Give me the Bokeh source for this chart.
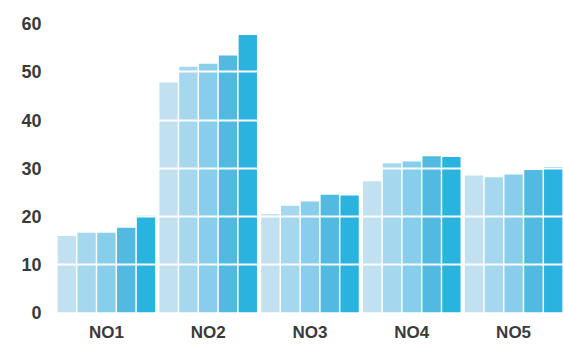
from bokeh.plotting import figure
from bokeh.models import ColumnDataSource, FactorRange, Range1d, FixedTicker
from bokeh.transform import dodge
from bokeh.embed import file_html
from bokeh.resources import INLINE

categories = ["NO1", "NO2", "NO3", "NO4", "NO5"]
s1 = [15.9, 47.8, 20.5, 27.3, 28.5]
s2 = [16.6, 51.1, 22.2, 31.0, 28.1]
s3 = [16.6, 51.7, 23.1, 31.4, 28.7]
s4 = [17.6, 53.4, 24.5, 32.5, 29.6]
s5 = [20.1, 57.7, 24.3, 32.3, 30.2]
series = [s1, s2, s3, s4, s5]
colors = ["#C2E1F0", "#A5D7EE", "#88CEEC", "#52BAE1", "#29B3DE"]
y_ticks = [0, 10, 20, 30, 40, 50, 60]

src = ColumnDataSource(dict(cat=categories, s1=s1, s2=s2, s3=s3, s4=s4, s5=s5))

p = figure(width=564, height=344, output_backend="svg", toolbar_location=None,
           x_range=FactorRange(*categories, range_padding=0),
           y_range=Range1d(0, 60.7),
           min_border_left=55, min_border_right=0, min_border_top=20, min_border_bottom=32)

pitch = 0.1945
offs = [-2 * pitch, -pitch, 0, pitch, 2 * pitch]
for i, key in enumerate(["s1", "s2", "s3", "s4", "s5"]):
    p.vbar(x=dodge("cat", offs[i], range=p.x_range), top=key, bottom=0, width=0.18,
           source=src, fill_color=colors[i], line_color=None)

p.outline_line_color = None
p.background_fill_color = "white"
p.border_fill_color = "white"
p.xgrid.visible = False
p.ygrid.grid_line_color = "white"
p.ygrid.grid_line_width = 2
p.ygrid.level = "overlay"
p.yaxis.ticker = FixedTicker(ticks=y_ticks)

for ax in (p.xaxis, p.yaxis):
    ax.axis_line_color = None
    ax.major_tick_line_color = None
    ax.minor_tick_line_color = None
    ax.major_tick_out = 0
    ax.major_tick_in = 0
    ax.minor_tick_out = 0
    ax.minor_tick_in = 0
    ax.major_label_text_font = "Liberation Sans"
    ax.major_label_text_font_style = "bold"
    ax.major_label_text_color = "#3a3a3a"

p.yaxis.major_label_text_font_size = "18px"
p.xaxis.major_label_text_font_size = "17px"
p.yaxis.major_label_standoff = 14
p.xaxis.major_label_standoff = 10

open("out.html", "w").write(file_html(p, INLINE))
